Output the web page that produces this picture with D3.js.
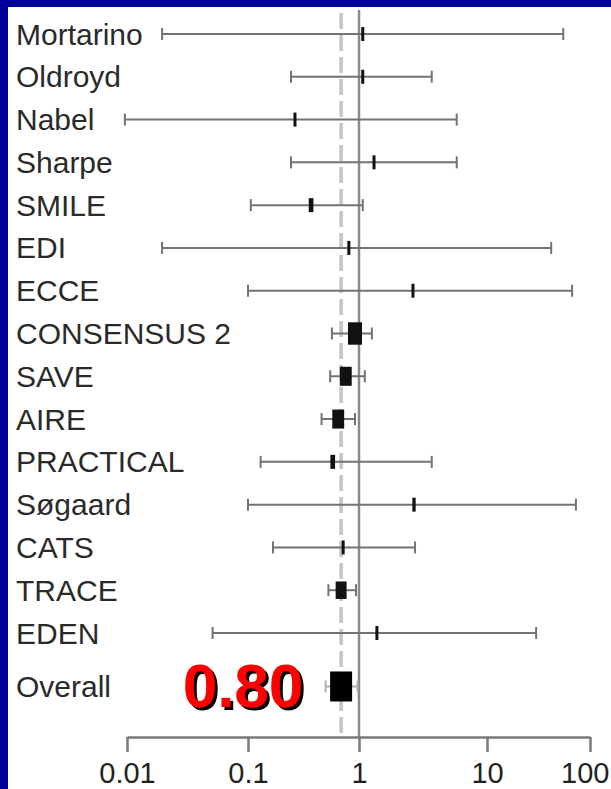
<!DOCTYPE html>
<html>
<head>
<meta charset="utf-8">
<script src="https://cdn.jsdelivr.net/npm/d3@7"></script>
<style>
  body { margin: 0; background: #000099; }
  svg { display: block; }
  text { font-family: "Liberation Sans", Arial, sans-serif; }
</style>
</head>
<body>
<svg id="chart" width="611" height="789"></svg>
<script>
// forest plot data
const studies = ["Mortarino", "Oldroyd", "Nabel", "Sharpe", "SMILE", "EDI", "ECCE", "CONSENSUS 2",
  "SAVE", "AIRE", "PRACTICAL", "Søgaard", "CATS", "TRACE", "EDEN"];
const estimate = [1.07, 1.07, 0.265, 1.31, 0.37, 0.81, 2.64, 0.92, 0.76, 0.65, 0.58, 2.69, 0.72, 0.69, 1.38];
const lower = [0.0195, 0.244, 0.0096, 0.244, 0.106, 0.0195, 0.1, 0.57, 0.55, 0.46, 0.13, 0.1, 0.168, 0.53, 0.051];
const upper = [55, 3.7, 5.8, 5.8, 1.07, 42, 67, 1.26, 1.11, 0.92, 3.7, 73, 2.74, 0.94, 30];
const weight = [0.3, 0.3, 0.3, 0.4, 2, 0.3, 0.3, 18, 13, 13, 2, 1, 0.5, 11, 0.3];

const overallLabel = "Overall";
const overallEstimate = 0.69;
const overallCI = [0.5, 0.97];
const overallText = "0.80";

const tickValues = [0.01, 0.1, 1, 10, 100];
const tickLabels = ["0.01", "0.1", "1", "10", "100"];

const svg = d3.select("#chart");

// drop shadow for the red pooled value
const shadow = svg.append("defs").append("filter")
  .attr("id", "shadow")
  .attr("x", "-10%").attr("y", "-10%")
  .attr("width", "130%").attr("height", "130%");
shadow.append("feDropShadow")
  .attr("dx", 3).attr("dy", 3)
  .attr("stdDeviation", 0.3)
  .attr("flood-color", "#000")
  .attr("flood-opacity", 1);

// white panel inside the blue frame
svg.append("rect")
  .attr("x", 8).attr("y", 7)
  .attr("width", 611 - 8).attr("height", 789 - 7)
  .attr("fill", "#fff");

// the scanned scale is a bit uneven, so map each decade on its own
const x = d3.scaleLog()
  .domain(tickValues)
  .range([127, 248, 359, 487, 590]);

const y = d3.scaleLinear()
  .domain([0, studies.length - 1])
  .range([34, 633]);
const overallY = y(15.25);

const box = d3.scaleSqrt().domain([0, 18]).range([0, 14]);
const boxW = w => Math.max(3, box(w));
const boxH = w => Math.max(14, boxW(w) * 1.6);

const axisY = 737;

// reference lines
svg.append("line")
  .attr("x1", x(overallEstimate)).attr("x2", x(overallEstimate))
  .attr("y1", 13).attr("y2", axisY)
  .attr("stroke", "#c4c4c4")
  .attr("stroke-width", 3.5)
  .attr("stroke-dasharray", "16,6");

svg.append("line")
  .attr("x1", x(1)).attr("x2", x(1))
  .attr("y1", 10).attr("y2", axisY)
  .attr("stroke", "#8a8a8a")
  .attr("stroke-width", 2.5);

// study rows
const rows = svg.append("g").selectAll("g")
  .data(studies)
  .join("g")
  .attr("transform", (d, i) => `translate(0,${y(i)})`);

rows.append("text")
  .attr("x", 16)
  .attr("dy", "0.35em")
  .attr("font-size", 30)
  .attr("fill", "#2a2a2a")
  .text(d => d);

rows.append("line")
  .attr("x1", (d, i) => x(lower[i]))
  .attr("x2", (d, i) => x(upper[i]))
  .attr("stroke", "#737373")
  .attr("stroke-width", 2);

rows.selectAll(".cap")
  .data((d, i) => [lower[i], upper[i]])
  .join("line")
  .attr("class", "cap")
  .attr("x1", v => x(v)).attr("x2", v => x(v))
  .attr("y1", -6).attr("y2", 6)
  .attr("stroke", "#737373")
  .attr("stroke-width", 2);

rows.append("rect")
  .attr("x", (d, i) => x(estimate[i]) - boxW(weight[i]) / 2)
  .attr("y", (d, i) => -boxH(weight[i]) / 2)
  .attr("width", (d, i) => boxW(weight[i]))
  .attr("height", (d, i) => boxH(weight[i]))
  .attr("fill", "#111");

// overall
const ov = svg.append("g").attr("transform", `translate(0,${overallY})`);

ov.append("text")
  .attr("x", 16)
  .attr("dy", "0.35em")
  .attr("font-size", 30)
  .attr("fill", "#2a2a2a")
  .text(overallLabel);

ov.append("line")
  .attr("x1", x(overallCI[0])).attr("x2", x(overallCI[1]))
  .attr("stroke", "#b0b0b0")
  .attr("stroke-width", 2);

ov.selectAll(".cap")
  .data(overallCI)
  .join("line")
  .attr("class", "cap")
  .attr("x1", v => x(v)).attr("x2", v => x(v))
  .attr("y1", -6).attr("y2", 6)
  .attr("stroke", "#b0b0b0")
  .attr("stroke-width", 2);

ov.append("rect")
  .attr("x", x(overallEstimate) - 11)
  .attr("y", -15)
  .attr("width", 22)
  .attr("height", 30)
  .attr("fill", "#000");

ov.append("text")
  .attr("x", 243)
  .attr("y", 21)
  .attr("text-anchor", "middle")
  .attr("font-size", 62)
  .attr("font-weight", "bold")
  .attr("fill", "#ff0000")
  .attr("filter", "url(#shadow)")
  .text(overallText);

// axis
const axis = d3.axisBottom(x)
  .tickValues(tickValues)
  .tickFormat((d, i) => tickLabels[i])
  .tickSize(15)
  .tickSizeOuter(0)
  .tickPadding(10);

const ax = svg.append("g")
  .attr("transform", `translate(0,${axisY})`)
  .call(axis);

ax.select(".domain").attr("stroke", "#7a7a7a").attr("stroke-width", 2.5);
ax.selectAll(".tick line").attr("stroke", "#7a7a7a").attr("stroke-width", 2.5);
ax.selectAll(".tick text")
  .attr("font-size", 29)
  .attr("font-family", "'Liberation Sans', Arial, sans-serif")
  .attr("fill", "#222");

// keep the last label inside the picture
ax.selectAll(".tick").each(function (d) {
  const t = d3.select(this).select("text");
  const b = t.node().getBBox();
  const right = x(d) + b.x + b.width;
  if (right > 609) t.attr("dx", 609 - right);
});
</script>
</body>
</html>
